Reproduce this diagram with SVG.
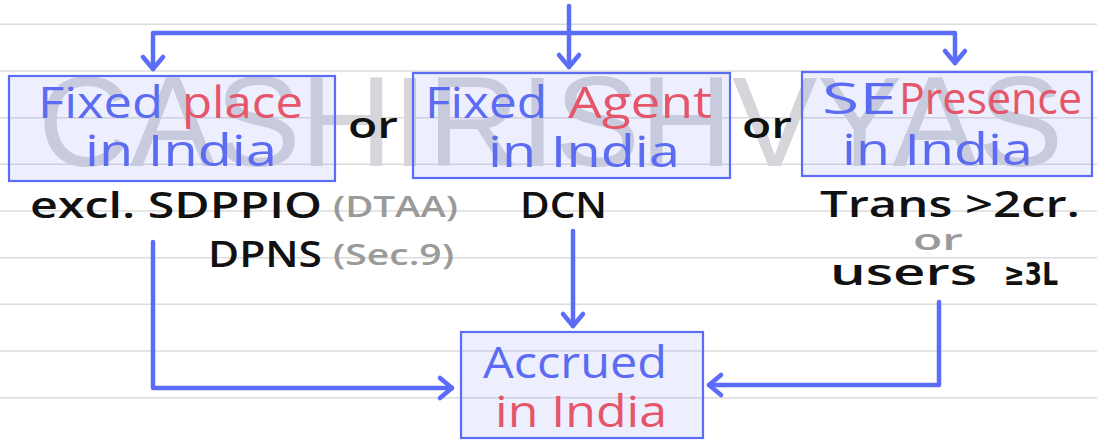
<svg xmlns="http://www.w3.org/2000/svg" width="1097" height="441" viewBox="0 0 1097 441">
<style>
.rule{stroke:#dcdcdc;stroke-width:1.5}
.box{fill:#5b6cf7;fill-opacity:0.11;stroke:#5b6cf7;stroke-width:2.2}
.t{font-family:"Open Sans","DejaVu Sans",sans-serif}
.blue{fill:#5b6cf2;font-size:44px}
.red{fill:#e5566a;font-size:44px}
.blk{fill:#111;font-size:36px;font-weight:600}
.gry{fill:#9a9a9a;font-size:28px;font-weight:600}
.con{fill:none;stroke:#5b6cf7;stroke-width:4.5;stroke-linecap:round;stroke-linejoin:round}
.wm{font-family:"Liberation Sans",Arial,sans-serif;font-size:128px;fill:#d6d6da}
</style>
<defs>
<marker id="ah" markerUnits="userSpaceOnUse" viewBox="-16 -13 20 26" markerWidth="20" markerHeight="26" refX="0" refY="0" orient="auto" overflow="visible">
<path d="M-12,-10 L0,0 L-12,10" fill="none" stroke="#5b6cf7" stroke-width="4.5" stroke-linecap="round" stroke-linejoin="round"/>
</marker>
</defs>
<rect width="1097" height="441" fill="#ffffff"/>
<g id="rules">
<line class="rule" x1="0" y1="24.3" x2="1097" y2="24.3"/>
<line class="rule" x1="0" y1="71" x2="1097" y2="71"/>
<line class="rule" x1="0" y1="117.7" x2="1097" y2="117.7"/>
<line class="rule" x1="0" y1="164.3" x2="1097" y2="164.3"/>
<line class="rule" x1="0" y1="211" x2="1097" y2="211"/>
<line class="rule" x1="0" y1="257.7" x2="1097" y2="257.7"/>
<line class="rule" x1="0" y1="304.3" x2="1097" y2="304.3"/>
<line class="rule" x1="0" y1="351" x2="1097" y2="351"/>
<line class="rule" x1="0" y1="397.7" x2="1097" y2="397.7"/>
</g>
<text id="watermark" class="wm" x="38" y="166" textLength="1025" lengthAdjust="spacing">CASHIRISHVYAS</text>
<g id="connectors">
<path class="con" d="M569,6 V67" marker-end="url(#ah)"/>
<path class="con" d="M569,33 H153 V69" marker-end="url(#ah)"/>
<path class="con" d="M569,33 H955 V63" marker-end="url(#ah)"/>
<path class="con" d="M153,242 V388 H452" marker-end="url(#ah)"/>
<path class="con" d="M573,231 V326" marker-end="url(#ah)"/>
<path class="con" d="M939,302 V385 H709" marker-end="url(#ah)"/>
</g>
<g id="node-fixed-place">
<rect class="box" x="9" y="76" width="326" height="105"/>
<text class="t blue" x="38" y="118" textLength="125" lengthAdjust="spacingAndGlyphs">Fixed</text>
<text class="t red" x="182" y="118" textLength="121" lengthAdjust="spacingAndGlyphs">place</text>
<text class="t blue" x="85" y="166" textLength="192" lengthAdjust="spacingAndGlyphs">in India</text>
</g>
<g id="node-fixed-agent">
<rect class="box" x="413" y="73" width="317" height="105"/>
<text class="t blue" x="425" y="118" textLength="122" lengthAdjust="spacingAndGlyphs">Fixed</text>
<text class="t red" x="568" y="118" textLength="144" lengthAdjust="spacingAndGlyphs">Agent</text>
<text class="t blue" x="488" y="167" textLength="192" lengthAdjust="spacingAndGlyphs">in India</text>
</g>
<g id="node-sep">
<rect class="box" x="802" y="72" width="290" height="104"/>
<text class="t blue" x="822" y="114" textLength="75" lengthAdjust="spacingAndGlyphs">SE</text>
<text class="t red" x="899" y="114" textLength="183" lengthAdjust="spacingAndGlyphs">Presence</text>
<text class="t blue" x="842" y="165" textLength="191" lengthAdjust="spacingAndGlyphs">in India</text>
</g>
<g id="node-accrued">
<rect class="box" x="461" y="332" width="242" height="106"/>
<text class="t blue" x="483" y="378" textLength="184" lengthAdjust="spacingAndGlyphs">Accrued</text>
<text class="t red" x="495" y="427" textLength="172" lengthAdjust="spacingAndGlyphs">in India</text>
</g>
<g id="or-labels">
<text class="t blk" x="348" y="138" textLength="50" lengthAdjust="spacingAndGlyphs">or</text>
<text class="t blk" x="742" y="138" textLength="50" lengthAdjust="spacingAndGlyphs">or</text>
</g>
<g id="label-place">
<text class="t blk" x="30" y="218" textLength="292" lengthAdjust="spacingAndGlyphs">excl. SDPPIO</text>
<text class="t gry" x="333" y="217" textLength="125" lengthAdjust="spacingAndGlyphs">(DTAA)</text>
<text class="t blk" x="208" y="267" textLength="114" lengthAdjust="spacingAndGlyphs">DPNS</text>
<text class="t gry" x="333" y="265" textLength="121" lengthAdjust="spacingAndGlyphs">(Sec.9)</text>
</g>
<g id="label-agent">
<text class="t blk" x="520" y="218" textLength="87" lengthAdjust="spacingAndGlyphs">DCN</text>
</g>
<g id="label-sep">
<text class="t blk" x="820" y="217" textLength="260" lengthAdjust="spacingAndGlyphs">Trans &gt;2cr.</text>
<text class="t gry" x="913" y="250" textLength="50" lengthAdjust="spacingAndGlyphs">or</text>
<text class="t blk" x="830" y="285" textLength="147" lengthAdjust="spacingAndGlyphs">users</text>
<text class="t blk" x="1004" y="285" textLength="54" lengthAdjust="spacingAndGlyphs" style="font-family:'DejaVu Sans',sans-serif;font-size:32px;font-weight:700">≥3L</text>
</g>
</svg>
